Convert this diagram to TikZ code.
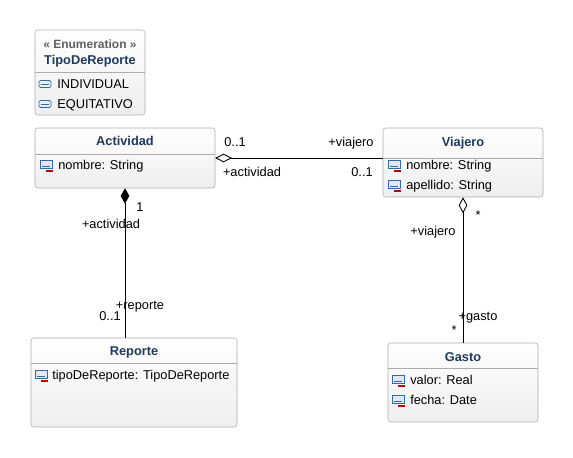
\documentclass[tikz,border=0pt]{standalone}
\usepackage{fontspec}
\setmainfont{Liberation Sans}
\usetikzlibrary{arrows.meta,fit}

\definecolor{titulo}{RGB}{31,58,92}
\definecolor{borde}{RGB}{172,172,172}
\definecolor{icono}{RGB}{55,105,165}

\tikzset{
  clase/.style={draw=borde, rounded corners=2pt, top color=white, bottom color=gray!13, inner sep=0pt},
  divisor/.style={draw=borde, line width=0.5pt},
  nombre/.style={font=\fontsize{9.6}{11}\selectfont\bfseries, text=titulo},
  estereo/.style={font=\fontsize{9}{11}\selectfont\bfseries, text=gray!75!black},
  atrib/.style={font=\fontsize{9.6}{11}\selectfont, anchor=west, inner sep=0pt, text height=7pt, text depth=2pt},
  rol/.style={font=\fontsize{9.6}{11}\selectfont, inner sep=0pt, text height=7pt, text depth=2pt},
  asoc/.style={line width=0.65pt},
  pics/atributo/.style={code={
    \draw[icono, fill=icono!15, line width=0.6pt] (0,-4.5) rectangle (12,3.5);
    \draw[icono, line width=0.6pt] (2,1.5) -- (10,1.5);
    \fill[red!75!black] (6,4.5) rectangle (13,6.5);
  }},
  pics/literal/.style={code={
    \draw[icono, fill=icono!10, rounded corners=1pt, line width=0.6pt] (0,-3.5) rectangle (12,3.5);
    \draw[icono, line width=0.6pt] (2,0) -- (10,0);
  }}
}

\begin{document}
\begin{tikzpicture}[x=0.75pt, y=-0.75pt]
  \useasboundingbox (0,0) rectangle (573,457);

  % Enumeracion
  \node[clase, fit={(35,30) (145,115)}] (tipo) {};
  \draw[divisor] (tipo.west |- 0,72) -- (tipo.east |- 0,72);
  \node[estereo] (tipoEst) at (90,44) {« Enumeration »};
  \node[nombre] (tipoNom) at (90,61) {TipoDeReporte};
  \pic at (39,84) {literal};
  \node[atrib] (lit1) at (57,85) {INDIVIDUAL};
  \pic at (39,104) {literal};
  \node[atrib] (lit2) at (57,105) {EQUITATIVO};

  % Actividad
  \node[clase, fit={(35,128) (215,188)}] (actividad) {};
  \draw[divisor] (actividad.west |- 0,154) -- (actividad.east |- 0,154);
  \node[nombre] (actividadNom) at (125,141) {Actividad};
  \pic at (40,165) {atributo};
  \node[atrib] (actividadA1) at (58,166) {nombre: String};

  % Viajero
  \node[clase, fit={(383,128) (543,197)}] (viajero) {};
  \draw[divisor] (viajero.west |- 0,158) -- (viajero.east |- 0,158);
  \node[nombre] (viajeroNom) at (463,143) {Viajero};
  \pic at (388,165) {atributo};
  \node[atrib] (viajeroA1) at (406,166) {nombre: String};
  \pic at (388,185) {atributo};
  \node[atrib] (viajeroA2) at (406,186) {apellido: String};

  % Reporte
  \node[clase, fit={(31,338) (237,427)}] (reporte) {};
  \draw[divisor] (reporte.west |- 0,363) -- (reporte.east |- 0,363);
  \node[nombre] (reporteNom) at (134,352) {Reporte};
  \pic at (35,375) {atributo};
  \node[atrib] (reporteA1) at (52,376) {tipoDeReporte: TipoDeReporte};

  % Gasto
  \node[clase, fit={(388,343) (538,422)}] (gasto) {};
  \draw[divisor] (gasto.west |- 0,368) -- (gasto.east |- 0,368);
  \node[nombre] (gastoNom) at (463,357) {Gasto};
  \pic at (392,380) {atributo};
  \node[atrib] (gastoA1) at (410,381) {valor: Real};
  \pic at (392,400) {atributo};
  \node[atrib] (gastoA2) at (410,401) {fecha: Date};

  % Asociaciones
  \draw[asoc, {Diamond[open, length=12.5pt, width=6.5pt]}-] (actividad.east) -- (actividad.east -| viajero.west);
  \draw[asoc, {Diamond[length=11.5pt, width=6.5pt]}-] (actividad.south) -- (actividad.south |- reporte.north);
  \draw[asoc, {Diamond[open, length=12pt, width=6.5pt]}-] (viajero.south) -- (gasto.north);

  % Roles y multiplicidades
  \node[rol] (m1) at (235,143) {0..1};
  \node[rol] (r1) at (351,143) {+viajero};
  \node[rol] (r2) at (252,173) {+actividad};
  \node[rol] (m2) at (362,173) {0..1};
  \node[rol] (m3) at (140,208) {1};
  \node[rol] (r3) at (111,225) {+actividad};
  \node[rol] (r4) at (140,306) {+reporte};
  \node[rol] (m4) at (110,317) {0..1};
  \node[rol] (m5) at (478,216) {*};
  \node[rol] (r5) at (433,232) {+viajero};
  \node[rol] (r6) at (478,317) {+gasto};
  \node[rol] (m6) at (454,331) {*};
\end{tikzpicture}
\end{document}
